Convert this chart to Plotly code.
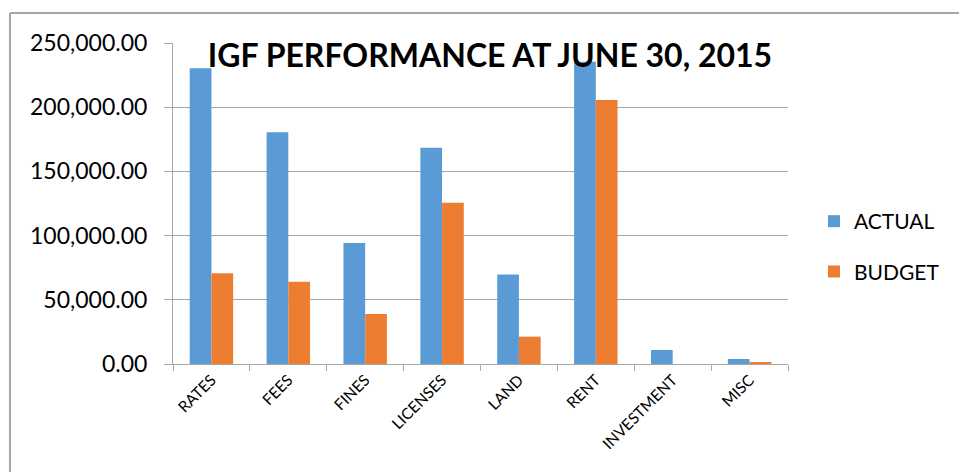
import plotly.graph_objects as go

categories = ["RATES", "FEES", "FINES", "LICENSES", "LAND", "RENT", "INVESTMENT", "MISC"]
actual = [230300, 180400, 94200, 168500, 69800, 235400, 10900, 3900]
budget = [70600, 64100, 38900, 125600, 21300, 205600, 0, 1500]
y_ticks = [0, 50000, 100000, 150000, 200000, 250000]
title_text = "IGF PERFORMANCE AT JUNE 30, 2015"

FONT = "Lato"
GRID = "#a6a6a6"

fig = go.Figure()
fig.add_trace(go.Bar(name="ACTUAL", x=categories, y=actual, marker=dict(color="#5B9BD5", line=dict(width=0)), legendgroup="a"))
fig.add_trace(go.Bar(name="BUDGET", x=categories, y=budget, marker=dict(color="#ED7D31", line=dict(width=0)), legendgroup="b"))

L, R, T, B = 173, 171, 43, 108
W, H = 959, 472
pw = W - L - R
ph = H - T - B

def px(x):
    return (x - L) / pw

def py(y):
    return (H - B - y) / ph

fig.update_layout(
    width=W, height=H,
    margin=dict(l=L, r=R, t=T, b=B),
    paper_bgcolor="white", plot_bgcolor="white",
    barmode="group", bargap=0.435, bargroupgap=0,
    font=dict(family=FONT, color="black"),
    title=dict(text="<b>" + title_text + "</b>", x=490 / W, xanchor="center",
               y=1 - 56 / H, yanchor="middle", xref="container", yref="container",
               font=dict(family=FONT, size=32, color="black")),
    legend=dict(x=px(814), xanchor="left", y=py(246.5), yanchor="middle",
                font=dict(family=FONT, size=21), traceorder="grouped",
                tracegroupgap=20, bgcolor="rgba(0,0,0,0)"),
    xaxis=dict(showline=True, linecolor=GRID, linewidth=1, ticks="outside",
               tickson="boundaries", ticklen=6, tickcolor=GRID, tickangle=-45,
               tickfont=dict(family=FONT, size=15.5), showgrid=False),
    yaxis=dict(range=[0, 250000], tickvals=y_ticks, tickformat=",.2f",
               showline=True, linecolor=GRID, linewidth=1, ticks="outside",
               ticklen=8, tickcolor=GRID, gridcolor=GRID, gridwidth=1,
               tickfont=dict(family=FONT, size=23), zeroline=False,
               ticklabelstandoff=12),
    shapes=[
        dict(type="line", xref="paper", yref="paper", x0=px(10), x1=px(959),
             y0=py(13), y1=py(13), line=dict(color="#a6a6a6", width=2)),
        dict(type="line", xref="paper", yref="paper", x0=px(10), x1=px(10),
             y0=py(13), y1=py(472), line=dict(color="#a6a6a6", width=2)),
    ],
)

fig.write_html("out.html")
